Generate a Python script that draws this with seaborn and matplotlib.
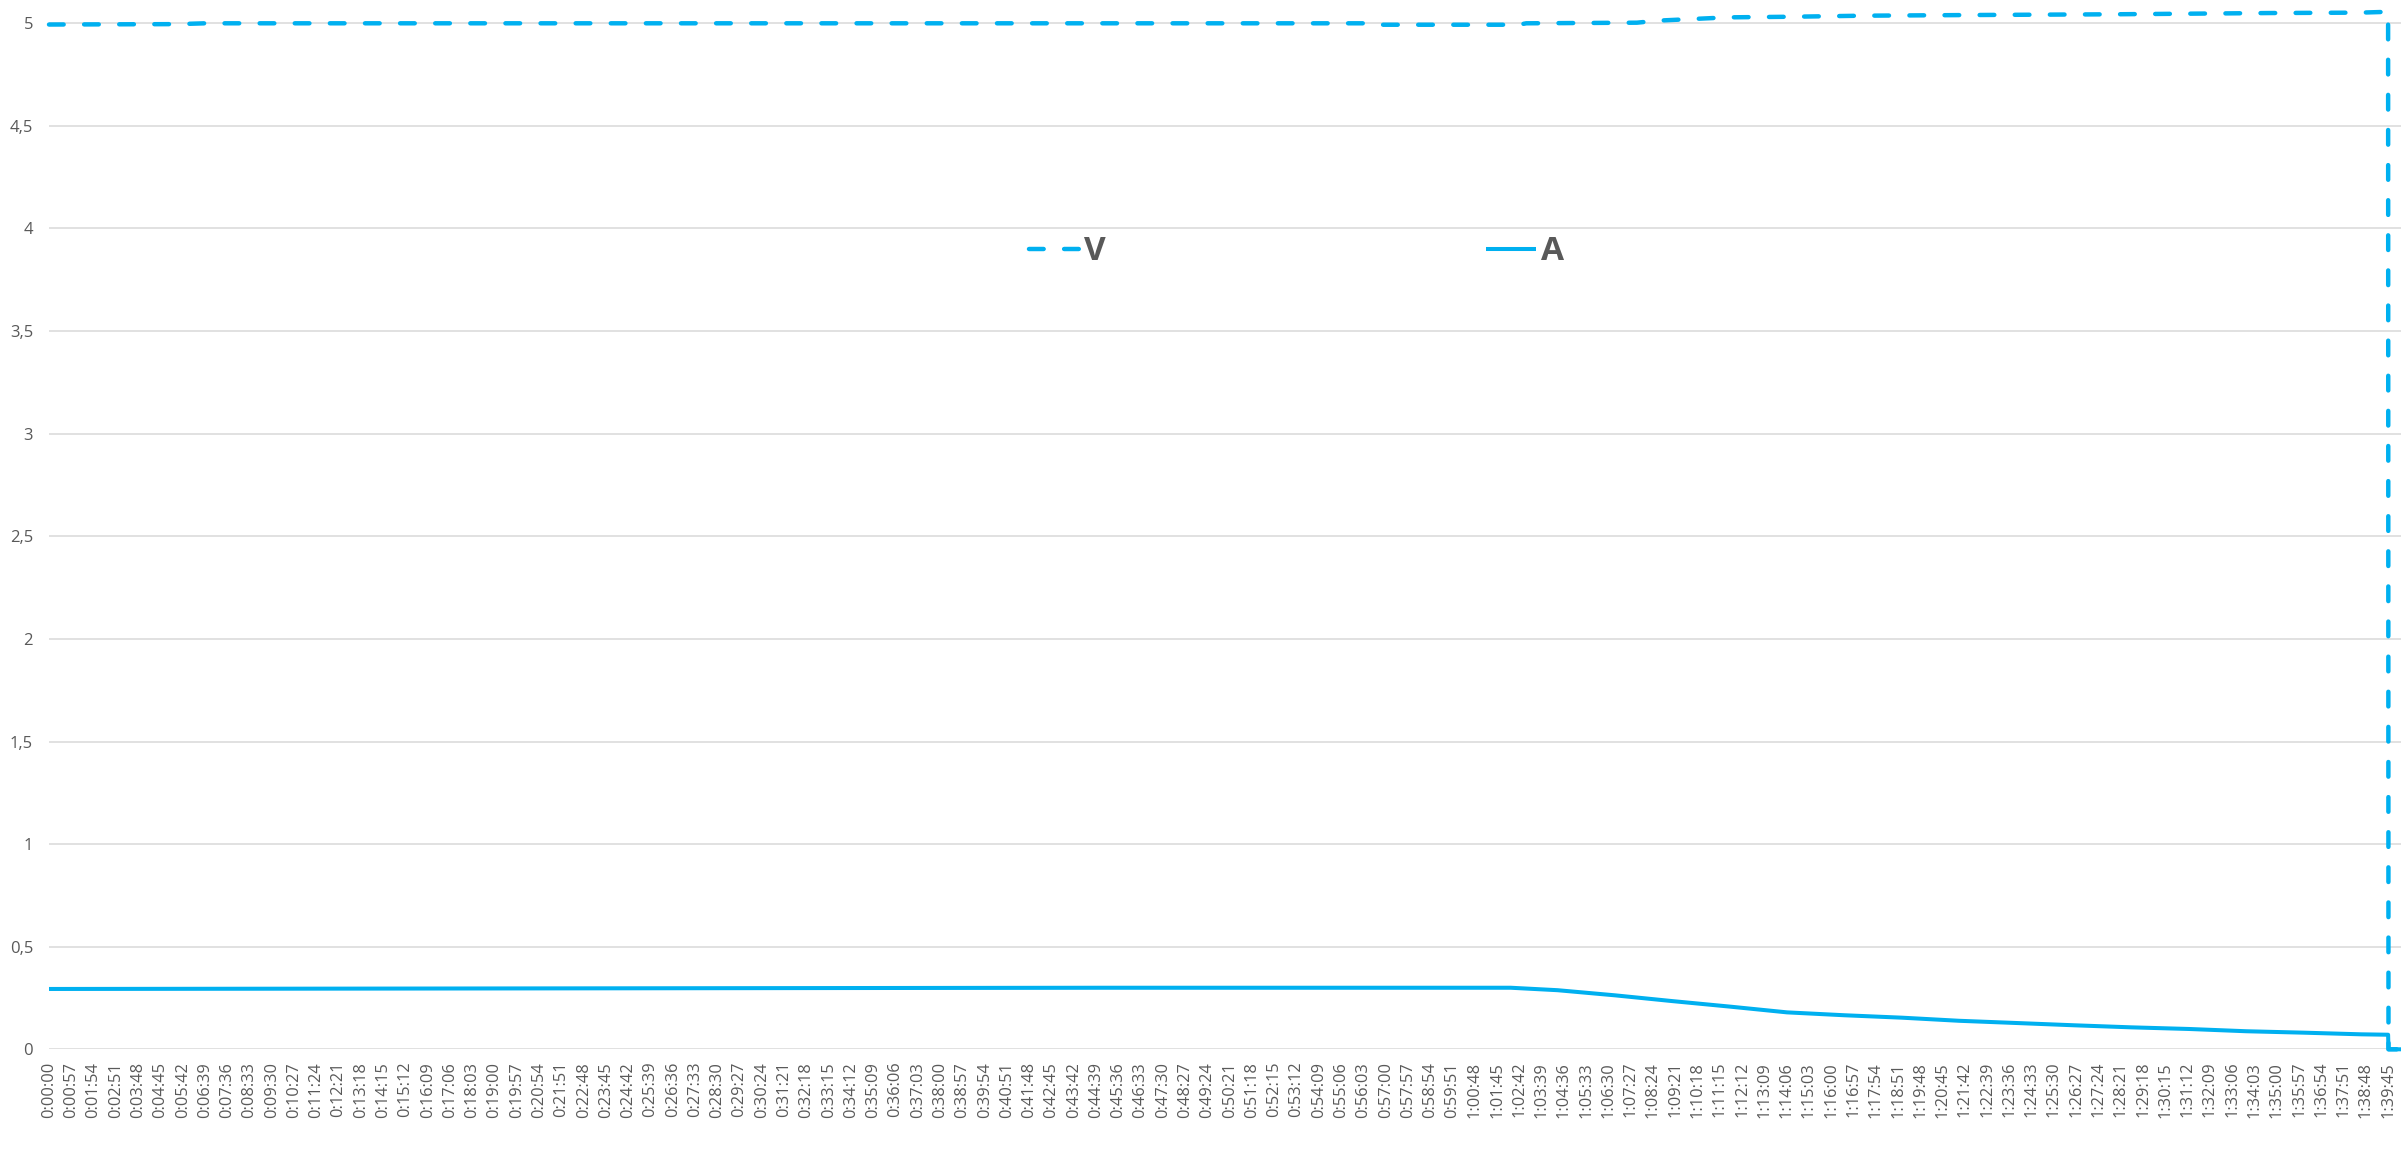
import matplotlib
matplotlib.use("Agg")
import matplotlib.pyplot as plt
import seaborn as sns
import pandas as pd
from matplotlib.font_manager import FontProperties

# ---------------- data (time in seconds) ----------------
t_V = [0, 330, 400, 3380, 3400, 3760, 3780, 4063, 4117, 4296, 4460, 4640,
       4890, 5287, 5681, 5914, 5985, 5986, 6020]
V = [4.994, 4.996, 5.0, 5.0, 4.993, 4.993, 5.0, 5.003, 5.013, 5.029, 5.032,
     5.037, 5.040, 5.044, 5.050, 5.052, 5.056, 0.0, 0.0]

t_A = [0, 900, 1800, 2700, 3740, 3860, 4007, 4153, 4301, 4447, 4593, 4742,
       4887, 5036, 5182, 5328, 5476, 5622, 5770, 5916, 5985, 5986, 6020]
A = [0.294, 0.296, 0.298, 0.300, 0.300, 0.288, 0.263, 0.235, 0.208, 0.180,
     0.166, 0.154, 0.139, 0.128, 0.117, 0.107, 0.099, 0.088, 0.081, 0.073,
     0.071, 0.0, 0.0]

series_names = ["V", "A"]
y_ticks = [0, 0.5, 1, 1.5, 2, 2.5, 3, 3.5, 4, 4.5, 5]
y_tick_labels = ["0", "0,5", "1", "1,5", "2", "2,5", "3", "3,5", "4", "4,5", "5"]
x_tick_seconds = list(range(0, 5986, 57))


def fmt(s):
    return f"{s // 3600}:{(s % 3600) // 60:02d}:{s % 60:02d}"


x_tick_labels = [fmt(s) for s in x_tick_seconds]

# ---------------- style ----------------
sns.set_theme(style="white")
plt.rcParams["font.family"] = ["Open Sans", "DejaVu Sans"]
BLUE = "#00B0F0"
GREY = "#595959"
GRID = "#D9D9D9"

W, H = 2401, 1149
fig = plt.figure(figsize=(W / 100, H / 100), dpi=100)
y0_px, y5_px = 1049.3, 23.3
ax = fig.add_axes([49 / W, (H - y0_px) / H, (W - 49) / W, y0_px / H])
fig.patch.set_facecolor("white")
ax.set_facecolor("white")

dfV = pd.DataFrame({"t": t_V, "value": V})
dfA = pd.DataFrame({"t": t_A, "value": A})

sns.lineplot(data=dfV, x="t", y="value", ax=ax, color=BLUE, lw=3.2,
             sort=False, estimator=None, dash_capstyle="round",
             solid_capstyle="round", clip_on=False, zorder=3)
sns.lineplot(data=dfA, x="t", y="value", ax=ax, color=BLUE, lw=2.9,
             sort=False, estimator=None, solid_capstyle="butt",
             clip_on=False, zorder=3)
lineV, lineA = ax.lines[0], ax.lines[1]
lineV.set_dashes((3.3, 4.6))
lineV.set_dash_capstyle("round")

ax.set_xlim(0, 6018)
unit = (y0_px - y5_px) / 5
ax.set_ylim(0, 5 + y5_px / unit)

ax.set_yticks(y_ticks)
ax.set_yticklabels(y_tick_labels)
ax.set_xticks(x_tick_seconds)
ax.set_xticklabels(x_tick_labels, rotation=90)
ax.tick_params(axis="y", length=0, pad=11.5, labelsize=12, colors=GREY)
ax.tick_params(axis="x", length=0, pad=9.0, labelsize=11.8, colors=GREY)
ax.set_xlabel("")
ax.set_ylabel("")

ax.yaxis.grid(True, color=GRID, lw=1.1, zorder=0)
ax.xaxis.grid(False)
for sp in ax.spines.values():
    sp.set_visible(False)

fig.legend([lineV, lineA], series_names, loc="center left",
           bbox_to_anchor=(1029 / W, 1 - 252 / H), ncol=2, frameon=False,
           prop=FontProperties(family="Open Sans", weight="bold", size=24),
           labelcolor=GREY, handlelength=1.5, handletextpad=0.15,
           columnspacing=11.4, borderpad=0, borderaxespad=0)

fig.savefig("out.png", dpi=100, facecolor="white")
